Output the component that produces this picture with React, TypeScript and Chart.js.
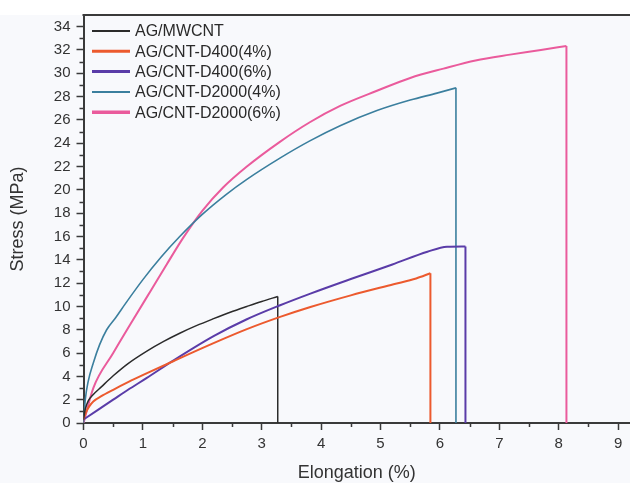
import React, { useEffect, useRef } from "react";
import { Chart, registerables } from "chart.js";

Chart.register(...registerables);

const seriesLabels = [
  "AG/MWCNT",
  "AG/CNT-D400(4%)",
  "AG/CNT-D400(6%)",
  "AG/CNT-D2000(4%)",
  "AG/CNT-D2000(6%)",
];
const seriesColors = ["#2b2b2b", "#ec5a2e", "#5a3ca8", "#3b7f9e", "#ea5b9c"];
const seriesWidths = [1.5, 2, 2, 1.6, 2];
const legendWidths = [2, 3, 3, 2, 3.5];

// stress-strain curves up to break point (last point = break)
const mwcntX = [0, 0.03, 0.08, 0.165, 0.3, 0.5, 0.75, 1.06, 1.35, 1.62, 1.9, 2.19, 2.47, 2.75, 3.0, 3.27];
const mwcntY = [0.3, 1.2, 1.9, 2.45, 3.1, 4.05, 5.1, 6.15, 7.0, 7.7, 8.35, 8.95, 9.5, 10.0, 10.43, 10.85];

const d400x4X = [0, 0.04, 0.1, 0.165, 0.3, 0.5, 0.75, 1.06, 1.51, 2.19, 2.75, 3.31, 3.82, 4.5, 5.22, 5.6, 5.84];
const d400x4Y = [0.3, 0.9, 1.45, 1.85, 2.3, 2.85, 3.5, 4.25, 5.3, 6.85, 8.05, 9.1, 9.95, 10.95, 11.9, 12.4, 12.85];

const d400x6X = [0, 0.25, 0.5, 0.75, 1.06, 1.51, 2.19, 2.75, 3.31, 3.82, 4.5, 5.2, 5.79, 6.12, 6.43];
const d400x6Y = [0.3, 1.15, 2.0, 2.85, 3.85, 5.35, 7.45, 8.9, 10.1, 11.1, 12.35, 13.6, 14.69, 15.12, 15.15];

const d2000x4X = [0, 0.03, 0.08, 0.165, 0.27, 0.39, 0.55, 0.7, 1.0, 1.3, 1.62, 2.0, 2.4, 2.75, 3.3, 3.81, 4.32, 4.94, 5.5, 5.95, 6.27];
const d2000x4Y = [0, 2.0, 3.6, 5.15, 6.7, 8.0, 9.1, 10.2, 12.3, 14.2, 16.0, 17.9, 19.6, 20.9, 22.7, 24.2, 25.5, 26.8, 27.7, 28.3, 28.75];

const d2000x6X = [0, 0.165, 0.5, 0.84, 1.15, 1.4, 1.68, 2.0, 2.35, 2.75, 3.3, 3.81, 4.32, 4.94, 5.5, 6.06, 6.6, 7.18, 7.7, 8.13];
const d2000x6Y = [0, 3.0, 6.0, 8.9, 11.5, 13.6, 15.9, 18.2, 20.2, 22.0, 24.1, 25.8, 27.2, 28.5, 29.6, 30.4, 31.1, 31.6, 32.0, 32.35];

const seriesX = [mwcntX, d400x4X, d400x6X, d2000x4X, d2000x6X];
const seriesY = [mwcntY, d400x4Y, d400x6Y, d2000x4Y, d2000x6Y];

const xTitle = "Elongation (%)";
const yTitle = "Stress (MPa)";
const xMin = 0;
const xMax = 9.2;
const yMin = 0;
const yMax = 35;

const FONT = "'Liberation Sans', Arial, sans-serif";
const AXIS = "#3a3a3a";

const decorPlugin = {
  id: "decor",
  beforeDraw(chart: any) {
    const { ctx, width, height, chartArea } = chart;
    ctx.save();
    ctx.fillStyle = "#ffffff";
    ctx.fillRect(0, 0, width, height);
    ctx.fillStyle = "#f8f9fc";
    ctx.fillRect(0, chartArea.top, width, height - chartArea.top);
    ctx.restore();
  },
  afterDraw(chart: any) {
    const { ctx, chartArea, scales } = chart;
    const xs = scales.x;
    const ys = scales.y;
    ctx.save();
    ctx.strokeStyle = AXIS;
    ctx.lineWidth = 1.5;
    ctx.beginPath();
    for (let v = 0.5; v < xMax; v += 1) {
      const px = Math.round(xs.getPixelForValue(v)) + 0.5;
      ctx.moveTo(px, chartArea.bottom);
      ctx.lineTo(px, chartArea.bottom + 4);
    }
    for (let v = 1; v < yMax; v += 2) {
      const py = Math.round(ys.getPixelForValue(v)) + 0.5;
      ctx.moveTo(chartArea.left, py);
      ctx.lineTo(chartArea.left - 4, py);
    }
    ctx.stroke();
    ctx.lineWidth = 2;
    ctx.beginPath();
    ctx.moveTo(chartArea.left - 1, chartArea.top);
    ctx.lineTo(chartArea.right, chartArea.top);
    ctx.stroke();

    // legend
    const lx0 = 92;
    const lx1 = 130;
    const ty = 31;
    const gap = 20.3;
    ctx.font = `16px ${FONT}`;
    ctx.textBaseline = "middle";
    ctx.textAlign = "left";
    chart.data.datasets
      .filter((ds: any) => !ds.isDrop)
      .forEach((ds: any, i: number) => {
        const y = ty + gap * i;
        ctx.strokeStyle = ds.borderColor;
        ctx.lineWidth = legendWidths[i];
        ctx.beginPath();
        ctx.moveTo(lx0, y);
        ctx.lineTo(lx1, y);
        ctx.stroke();
        ctx.fillStyle = "#2a2a2a";
        ctx.fillText(ds.label, 135, y + 1);
      });
    ctx.restore();
  },
};

export default function App() {
  const ref = useRef<HTMLCanvasElement>(null);

  useEffect(() => {
    document.body.style.margin = "0";
    const canvas = ref.current;
    if (!canvas) return;
    const curves = seriesLabels.map((label, i) => ({
      label,
      data: seriesX[i].map((x, j) => ({ x, y: seriesY[i][j] })),
      borderColor: seriesColors[i],
      backgroundColor: seriesColors[i],
      borderWidth: seriesWidths[i],
      showLine: true,
      pointRadius: 0,
      cubicInterpolationMode: "monotone",
      fill: false,
    }));
    const drops = seriesLabels.map((label, i) => {
      const n = seriesX[i].length - 1;
      return {
        label: label + " break",
        isDrop: true,
        data: [
          { x: seriesX[i][n], y: seriesY[i][n] },
          { x: seriesX[i][n], y: 0 },
        ],
        borderColor: seriesColors[i],
        backgroundColor: seriesColors[i],
        borderWidth: seriesWidths[i],
        showLine: true,
        pointRadius: 0,
        tension: 0,
        fill: false,
      };
    });
    const chart = new Chart(canvas, {
      type: "scatter",
      data: { datasets: [...curves, ...drops] },
      options: {
        responsive: false,
        animation: false,
        events: [],
        layout: { padding: { top: 15, right: 0, bottom: 0, left: 0 } },
        plugins: {
          legend: { display: false },
          tooltip: { enabled: false },
        },
        scales: {
          x: {
            type: "linear",
            min: xMin,
            max: xMax,
            afterFit: (s: any) => {
              s.height = 60;
            },
            ticks: {
              stepSize: 1,
              includeBounds: false,
              color: "#333",
              font: { family: FONT, size: 15 },
              padding: 5,
              maxRotation: 0,
            },
            grid: {
              drawOnChartArea: false,
              drawTicks: true,
              tickLength: 7,
              tickWidth: 1.5,
              tickColor: AXIS,
            },
            border: { display: true, color: AXIS, width: 2 },
            title: {
              display: true,
              text: xTitle,
              color: "#333",
              font: { family: FONT, size: 18, lineHeight: 1.1 },
              padding: { top: 0, bottom: 0 },
            },
          },
          y: {
            type: "linear",
            min: yMin,
            max: yMax,
            afterFit: (s: any) => {
              s.width = 83.5;
            },
            ticks: {
              stepSize: 2,
              includeBounds: false,
              color: "#333",
              font: { family: FONT, size: 15 },
              padding: 6,
            },
            grid: {
              drawOnChartArea: false,
              drawTicks: true,
              tickLength: 7,
              tickWidth: 1.5,
              tickColor: AXIS,
            },
            border: { display: true, color: AXIS, width: 2 },
            title: {
              display: true,
              text: yTitle,
              color: "#333",
              font: { family: FONT, size: 18, lineHeight: 1.1 },
              padding: { top: 8, bottom: 0 },
            },
          },
        },
      },
      plugins: [decorPlugin],
    } as any);
    return () => chart.destroy();
  }, []);

  return (
    <div style={{ position: "fixed", left: 0, top: 0, width: 630, height: 483 }}>
      <canvas ref={ref} width={630} height={483} style={{ width: 630, height: 483, display: "block" }} />
    </div>
  );
}
